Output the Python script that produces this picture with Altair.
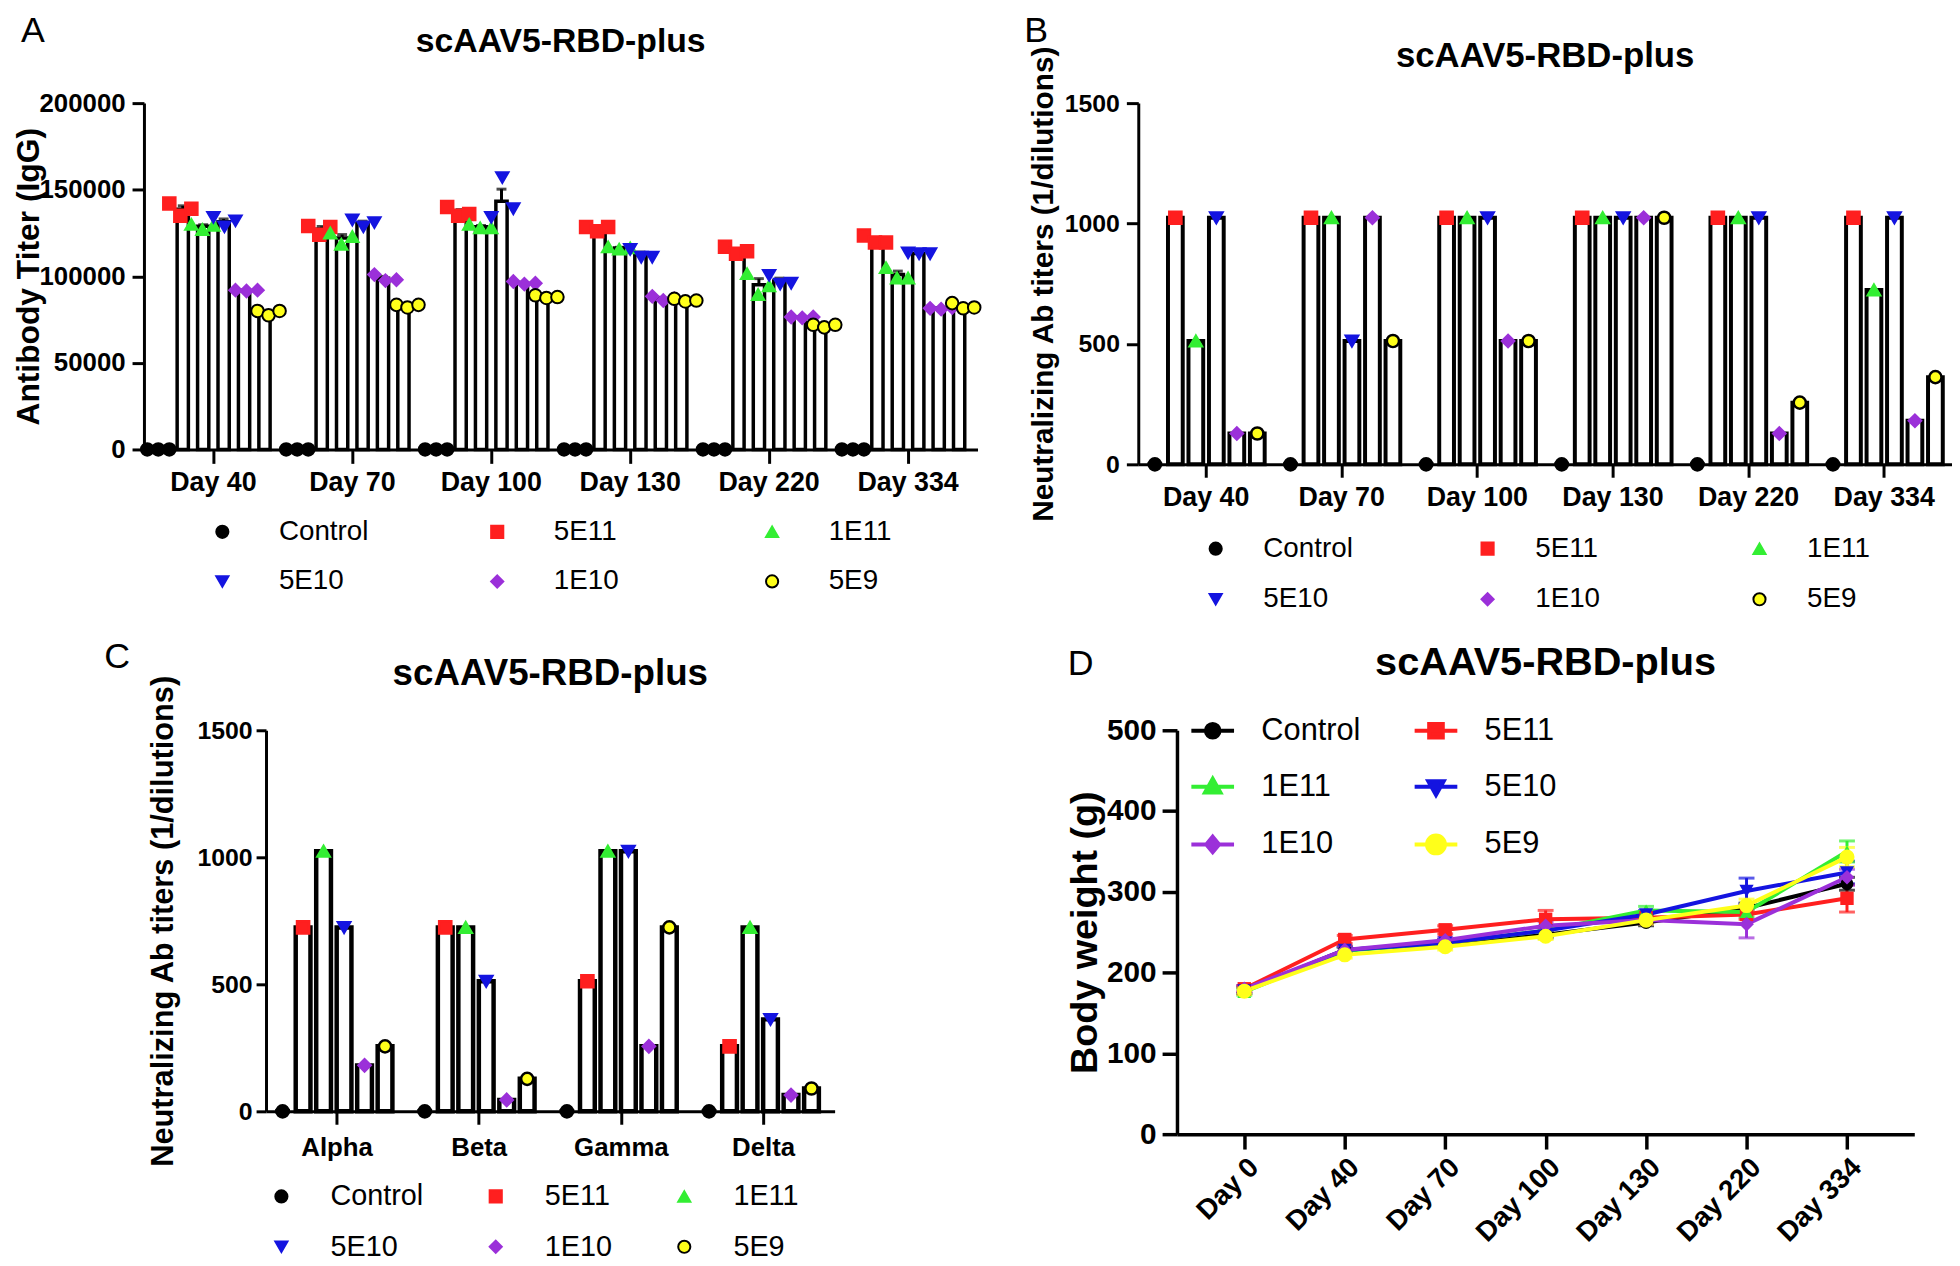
import altair as alt
import pandas as pd

FONT = "Liberation Sans"
GROUPS = ["Control", "5E11", "1E11", "5E10", "1E10", "5E9"]
COLORS = ["#000000", "#ff1f1f", "#33ee33", "#1414e0", "#9b30d9", "#ffff1a"]
EDGES = ["#000000", "#ff1f1f", "#33ee33", "#1414e0", "#9b30d9", "#000000"]
SHAPES = ["circle", "square", "triangle-up", "triangle-down", "diamond", "circle"]
LINE_EDGES = ["#000000", "#ff1f1f", "#33ee33", "#1414e0", "#9b30d9", "#ffff1a"]
LEGEND_PATHS = [
    "M-1,0H1M0.32,0A0.32,0.32,0,1,1,-0.32,0A0.32,0.32,0,1,1,0.32,0Z",
    "M-1,0H1M-0.32,-0.32H0.32V0.32H-0.32Z",
    "M-1,0H1M0,-0.38L0.36,0.26H-0.36Z",
    "M-1,0H1M0,0.38L0.36,-0.26H-0.36Z",
    "M-1,0H1M0,-0.36L0.3,0L0,0.36L-0.3,0Z",
    "M-1,0H1M0.42,0A0.42,0.42,0,1,1,-0.42,0A0.42,0.42,0,1,1,0.42,0Z",
]

# ---------------- Panel A: IgG titers, three animals per group ----------------
DAYS_A = ["Day 40", "Day 70", "Day 100", "Day 130", "Day 220", "Day 334"]
IGG_CONTROL = [(0, 0, 0), (0, 0, 0), (0, 0, 0), (0, 0, 0), (0, 0, 0), (0, 0, 0)]
IGG_5E11 = [(142000, 135000, 139000), (129000, 124000, 128500), (140000, 135000, 136000),
            (128500, 126000, 128500), (117000, 113000, 114500), (123500, 119500, 119500)]
IGG_1E11 = [(130000, 127000, 129500), (125000, 118500, 123000), (130000, 128000, 128000),
            (117000, 115700, 116400), (101500, 89500, 94500), (105000, 99000, 99000)]
IGG_5E10 = [(134000, 128500, 132000), (132500, 128500, 131000), (134000, 157000, 139000),
            (115500, 111000, 111000), (100500, 95500, 96000), (113500, 113000, 113000)]
IGG_1E10 = [(92000, 91500, 92000), (101000, 97500, 98000), (97000, 95500, 96000),
            (88400, 86000, 87000), (76500, 76000, 76500), (81500, 81000, 82000)]
IGG_5E9 = [(80000, 77500, 80000), (83500, 82000, 83500), (89000, 87500, 88000),
           (87000, 85500, 86000), (72000, 70500, 72000), (84500, 81500, 82000)]

# ---------------- Panel B: neutralizing titers over time ----------------
NAB_CONTROL = [0, 0, 0, 0, 0, 0]
NAB_5E11 = [1024, 1024, 1024, 1024, 1024, 1024]
NAB_1E11 = [512, 1024, 1024, 1024, 1024, 724]
NAB_5E10 = [1024, 512, 1024, 1024, 1024, 1024]
NAB_1E10 = [128, 1024, 512, 1024, 128, 181]
NAB_5E9 = [128, 512, 512, 1024, 256, 362]

# ---------------- Panel C: variants ----------------
VARIANTS = ["Alpha", "Beta", "Gamma", "Delta"]
VAR_CONTROL = [0, 0, 0, 0]
VAR_5E11 = [724, 724, 512, 256]
VAR_1E11 = [1024, 724, 1024, 724]
VAR_5E10 = [724, 512, 1024, 362]
VAR_1E10 = [181, 45, 256, 64]
VAR_5E9 = [256, 128, 724, 90]

# ---------------- Panel D: body weight ----------------
DAYS_D = ["Day 0", "Day 40", "Day 70", "Day 100", "Day 130", "Day 220", "Day 334"]
BW_CONTROL = [178, 228, 236, 247, 262, 280, 310]
BW_5E11 = [180, 241, 253, 266, 268, 272, 292]
BW_1E11 = [176, 227, 237, 252, 277, 275, 350]
BW_5E10 = [178, 228, 237, 252, 272, 301, 324]
BW_1E10 = [180, 228, 240, 258, 265, 260, 318]
BW_5E9 = [177, 222, 232, 245, 265, 283, 343]
SEM_CONTROL = [4, 4, 4, 4, 4, 6, 8]
SEM_5E11 = [4, 5, 5, 11, 5, 6, 17]
SEM_1E11 = [4, 4, 4, 4, 5, 6, 13]
SEM_5E10 = [4, 4, 4, 4, 5, 16, 14]
SEM_1E10 = [4, 4, 4, 5, 5, 17, 10]
SEM_5E9 = [4, 4, 4, 4, 5, 8, 12]

INDEP = dict(color="independent", shape="independent", stroke="independent", size="independent")


def ax(**kw):
    base = dict(labelFont=FONT, labelFontWeight="bold", labelColor="black",
                titleFont=FONT, titleFontWeight="bold", titleColor="black",
                domainColor="black", tickColor="black", grid=False)
    base.update(kw)
    return alt.Axis(**base)


def annot(text, x, y, size, weight, align, baseline):
    return alt.Chart(pd.DataFrame({"t": [text]})).mark_text(
        font=FONT, fontSize=size, fontWeight=weight, align=align,
        baseline=baseline, color="black"
    ).encode(text="t:N", x=alt.value(x), y=alt.value(y))


def group_legend(x, y, col_pad, row_pad, label_size, label_offset, grid_align):
    return alt.Legend(title=None, orient="none", legendX=x, legendY=y,
                      direction="horizontal", columns=3, columnPadding=col_pad,
                      rowPadding=row_pad, gridAlign=grid_align, padding=0,
                      labelFont=FONT, labelFontSize=label_size, labelColor="black",
                      labelOffset=label_offset, symbolSize=150, symbolStrokeWidth=2)


def group_encodings(legend):
    return dict(
        color=alt.Color("group:N", scale=alt.Scale(domain=GROUPS, range=COLORS), legend=legend),
        shape=alt.Shape("group:N", scale=alt.Scale(domain=GROUPS, range=SHAPES), legend=legend),
        stroke=alt.Stroke("group:N", scale=alt.Scale(domain=GROUPS, range=EDGES), legend=legend),
    )


# ======================= Panel A =======================
rows = []
for gi, (g, trip_list) in enumerate(zip(GROUPS, [IGG_CONTROL, IGG_5E11, IGG_1E11, IGG_5E10, IGG_1E10, IGG_5E9])):
    for d, trip in zip(DAYS_A, trip_list):
        for r, v in enumerate(trip):
            rows.append({"day": d, "group": g, "slot": 2 * gi + r, "value": v})
df_a = pd.DataFrame(rows)

W_A, H_A = 840, 349
xa = alt.X("day:N", sort=DAYS_A, scale=alt.Scale(domain=DAYS_A, paddingInner=0, paddingOuter=0),
           axis=ax(title=None, labelFontSize=27, labelAngle=0, tickSize=14, tickWidth=3,
                   domainWidth=3, labelPadding=6))
ya_scale = alt.Scale(domain=[0, 200000], nice=False)
ya_axis = ax(title="Antibody Titer (IgG)", values=[0, 50000, 100000, 150000, 200000], format="d",
             labelFontSize=26, titleFontSize=32, tickSize=12, tickWidth=3, domainWidth=3,
             labelPadding=7, titlePadding=-6)
off_a = alt.XOffset("group:N", sort=GROUPS,
                    scale=alt.Scale(domain=GROUPS, paddingInner=0.45, paddingOuter=0.625))

bars_a = alt.Chart(df_a).mark_bar(fill="white", stroke="black", strokeWidth=3.5).encode(
    x=xa, xOffset=off_a, y=alt.Y("mean(value):Q", scale=ya_scale, axis=ya_axis))
err_a = alt.Chart(df_a).transform_aggregate(
    m="mean(value)", se="stderr(value)", groupby=["day", "group"]
).transform_calculate(hi="datum.m + datum.se")
err_rule_a = err_a.mark_rule(color="black", strokeWidth=3).encode(
    x=xa, xOffset=off_a, y=alt.Y("m:Q", scale=ya_scale, axis=ya_axis), y2="hi:Q")
err_cap_a = err_a.mark_tick(color="black", thickness=3, size=10).encode(
    x=xa, xOffset=off_a, y=alt.Y("hi:Q", scale=ya_scale, axis=ya_axis))
leg_a = group_legend(65, 418, 115, 22, 28, 43, "all")
pts_a = alt.Chart(df_a).mark_point(filled=True, size=160, strokeWidth=2, opacity=1).encode(
    x=xa,
    xOffset=alt.XOffset("slot:O", scale=alt.Scale(domain=list(range(13)), paddingInner=0, paddingOuter=0.3)),
    y=alt.Y("value:Q", scale=ya_scale, axis=ya_axis),
    **group_encodings(leg_a))
panel_a = alt.layer(
    bars_a, err_rule_a, err_cap_a, pts_a,
    annot("A", -124, -90, 36, "normal", "left", "top"),
    annot("scAAV5-RBD-plus", W_A / 2, -62, 34, "bold", "center", "middle"),
).resolve_scale(xOffset="independent").properties(width=W_A, height=H_A)


# ======================= Panel B / C builder =======================
def single_bar_panel(cats, series, width, height, pad_in, pad_out, bar_sw, xlab_size, xlab_pad,
                     ylab_size, ylab_pad, ytick, ytitle_size, ytitle_pad, leg, title_y, title_size, extra):
    rr = []
    for g, vals in zip(GROUPS, series):
        for c, v in zip(cats, vals):
            rr.append({"cat": c, "group": g, "value": v})
    df = pd.DataFrame(rr)
    x = alt.X("cat:N", sort=cats, scale=alt.Scale(domain=cats, paddingInner=0, paddingOuter=0),
              axis=ax(title=None, labelFontSize=xlab_size, labelAngle=0, tickSize=13, tickWidth=3,
                      domainWidth=3, labelPadding=xlab_pad))
    y = alt.Y("value:Q", scale=alt.Scale(domain=[0, 1500], nice=False),
              axis=ax(title="Neutralizing Ab titers (1/dilutions)", values=[0, 500, 1000, 1500],
                      format="d", labelFontSize=ylab_size, titleFontSize=ytitle_size, tickSize=ytick,
                      tickWidth=3, domainWidth=3, labelPadding=ylab_pad, titlePadding=ytitle_pad))
    off = alt.XOffset("group:N", sort=GROUPS,
                      scale=alt.Scale(domain=GROUPS, paddingInner=pad_in, paddingOuter=pad_out))
    bars = alt.Chart(df).mark_bar(fill="white", stroke="black", strokeWidth=bar_sw).encode(
        x=x, xOffset=off, y=y)
    pts = alt.Chart(df).mark_point(filled=True, size=150, strokeWidth=2.5, opacity=1).encode(
        x=x, xOffset=off, y=y, **group_encodings(leg))
    return alt.layer(
        bars, pts, *extra,
        annot("scAAV5-RBD-plus", width / 2, title_y, title_size, "bold", "center", "middle"),
    ).properties(width=width, height=height)


panel_b = single_bar_panel(
    DAYS_A, [NAB_CONTROL, NAB_5E11, NAB_1E11, NAB_5E10, NAB_1E10, NAB_5E9],
    820, 364, 0.28, 0.45, 4, 27, 7, 25, 7, 12, 30, 6,
    group_legend(64, 435, 121, 23, 28, 34, "all"),
    -47, 35, [annot("B", -115, -90, 36, "normal", "left", "top")])

panel_c = single_bar_panel(
    VARIANTS, [VAR_CONTROL, VAR_5E11, VAR_1E11, VAR_5E10, VAR_1E10, VAR_5E9],
    573, 384, 0.2, 0.57, 4.5, 26, 10, 25, 4, 10, 31, 18,
    group_legend(1, 455, 58, 21, 29, 35, "each"),
    -57, 37, [])

# ======================= Panel D =======================
rows = []
for g, means, sems in zip(GROUPS, [BW_CONTROL, BW_5E11, BW_1E11, BW_5E10, BW_1E10, BW_5E9],
                          [SEM_CONTROL, SEM_5E11, SEM_1E11, SEM_5E10, SEM_1E10, SEM_5E9]):
    for di, (d, m, s) in enumerate(zip(DAYS_D, means, sems)):
        rows.append({"day": d, "di": di, "group": g, "mean": m, "sem": s})
df_d = pd.DataFrame(rows)

W_D, H_D = 743, 407
xd = alt.X("day:N", sort=DAYS_D, scale=alt.Scale(type="point", domain=DAYS_D, padding=0.67),
           axis=ax(title=None, labelAngle=315, labelAlign="right", labelBaseline="top",
                   labelFontSize=28, tickSize=15, tickWidth=3.5, domainWidth=3.5, labelPadding=4))
yd_scale = alt.Scale(domain=[0, 500], nice=False)
yd_axis = ax(title="Body weight (g)", values=[0, 100, 200, 300, 400, 500], labelFontSize=30,
             titleFontSize=38, tickSize=15, tickWidth=3.5, domainWidth=3.5, labelPadding=6,
             titlePadding=2)
col_d = alt.Color("group:N", scale=alt.Scale(domain=GROUPS, range=LINE_EDGES), legend=None)

base_d = alt.Chart(df_d).transform_calculate(lo="datum.mean - datum.sem", hi="datum.mean + datum.sem")
err_d = base_d.mark_rule(strokeWidth=3).encode(
    x=xd, y=alt.Y("lo:Q", scale=yd_scale, axis=yd_axis), y2="hi:Q", color=col_d)
cap_hi = base_d.mark_tick(thickness=3, size=16).encode(
    x=xd, y=alt.Y("hi:Q", scale=yd_scale, axis=yd_axis), color=col_d)
cap_lo = base_d.mark_tick(thickness=3, size=16).encode(
    x=xd, y=alt.Y("lo:Q", scale=yd_scale, axis=yd_axis), color=col_d)
lines_d = alt.Chart(df_d).mark_line(strokeWidth=4).encode(
    x=xd, y=alt.Y("mean:Q", scale=yd_scale, axis=yd_axis), color=col_d, order="di:Q")
pts_d = alt.Chart(df_d).mark_point(filled=True, opacity=1).encode(
    x=xd, y=alt.Y("mean:Q", scale=yd_scale, axis=yd_axis), color=col_d,
    shape=alt.Shape("group:N", scale=alt.Scale(domain=GROUPS, range=SHAPES), legend=None),
    size=alt.Size("group:N", scale=alt.Scale(domain=GROUPS, range=[170, 230, 230, 230, 200, 380]), legend=None))
leg_d = alt.Legend(title=None, orient="none", legendX=12, legendY=-25, direction="horizontal",
                   columns=2, columnPadding=46, rowPadding=16, gridAlign="all", padding=0,
                   labelFont=FONT, labelFontSize=31, labelColor="black", labelOffset=25,
                   symbolSize=1850, symbolStrokeWidth=4)
legend_layer_d = alt.Chart(df_d).transform_filter("false").mark_point(filled=True, opacity=1).encode(
    color=alt.Color("group:N", scale=alt.Scale(domain=GROUPS, range=LINE_EDGES), legend=leg_d),
    shape=alt.Shape("group:N", scale=alt.Scale(domain=GROUPS, range=LEGEND_PATHS), legend=leg_d),
    stroke=alt.Stroke("group:N", scale=alt.Scale(domain=GROUPS, range=LINE_EDGES), legend=leg_d))
panel_d = alt.layer(
    err_d, cap_hi, cap_lo, lines_d, pts_d, legend_layer_d,
    annot("D", -110, -84, 36, "normal", "left", "top"),
    annot("scAAV5-RBD-plus", W_D / 2, -68, 40, "bold", "center", "middle"),
).resolve_scale(**INDEP).properties(width=W_D, height=H_D)

# ======================= Layout =======================
letter_c = alt.Chart(pd.DataFrame({"t": ["C"]})).mark_text(
    font=FONT, fontSize=36, fontWeight="normal", align="left", baseline="top", color="black"
).encode(text="t:N", x=alt.value(-40), y=alt.value(-91)).properties(width=1, height=10)

row1 = alt.hconcat(panel_a, panel_b, spacing=40).resolve_scale(**INDEP)
inner2 = alt.hconcat(panel_c, panel_d, spacing=233).resolve_scale(**INDEP)
row2 = alt.hconcat(letter_c, inner2, spacing=2).resolve_scale(**INDEP)
chart = alt.vconcat(row1, row2, spacing=26).resolve_scale(**INDEP).properties(
    padding={"left": 4, "top": 0, "right": 0, "bottom": 0}
).configure(font=FONT, background="white").configure_view(stroke="transparent", strokeWidth=0)

chart.save("out.html", embed_options={"renderer": "svg", "actions": False})
